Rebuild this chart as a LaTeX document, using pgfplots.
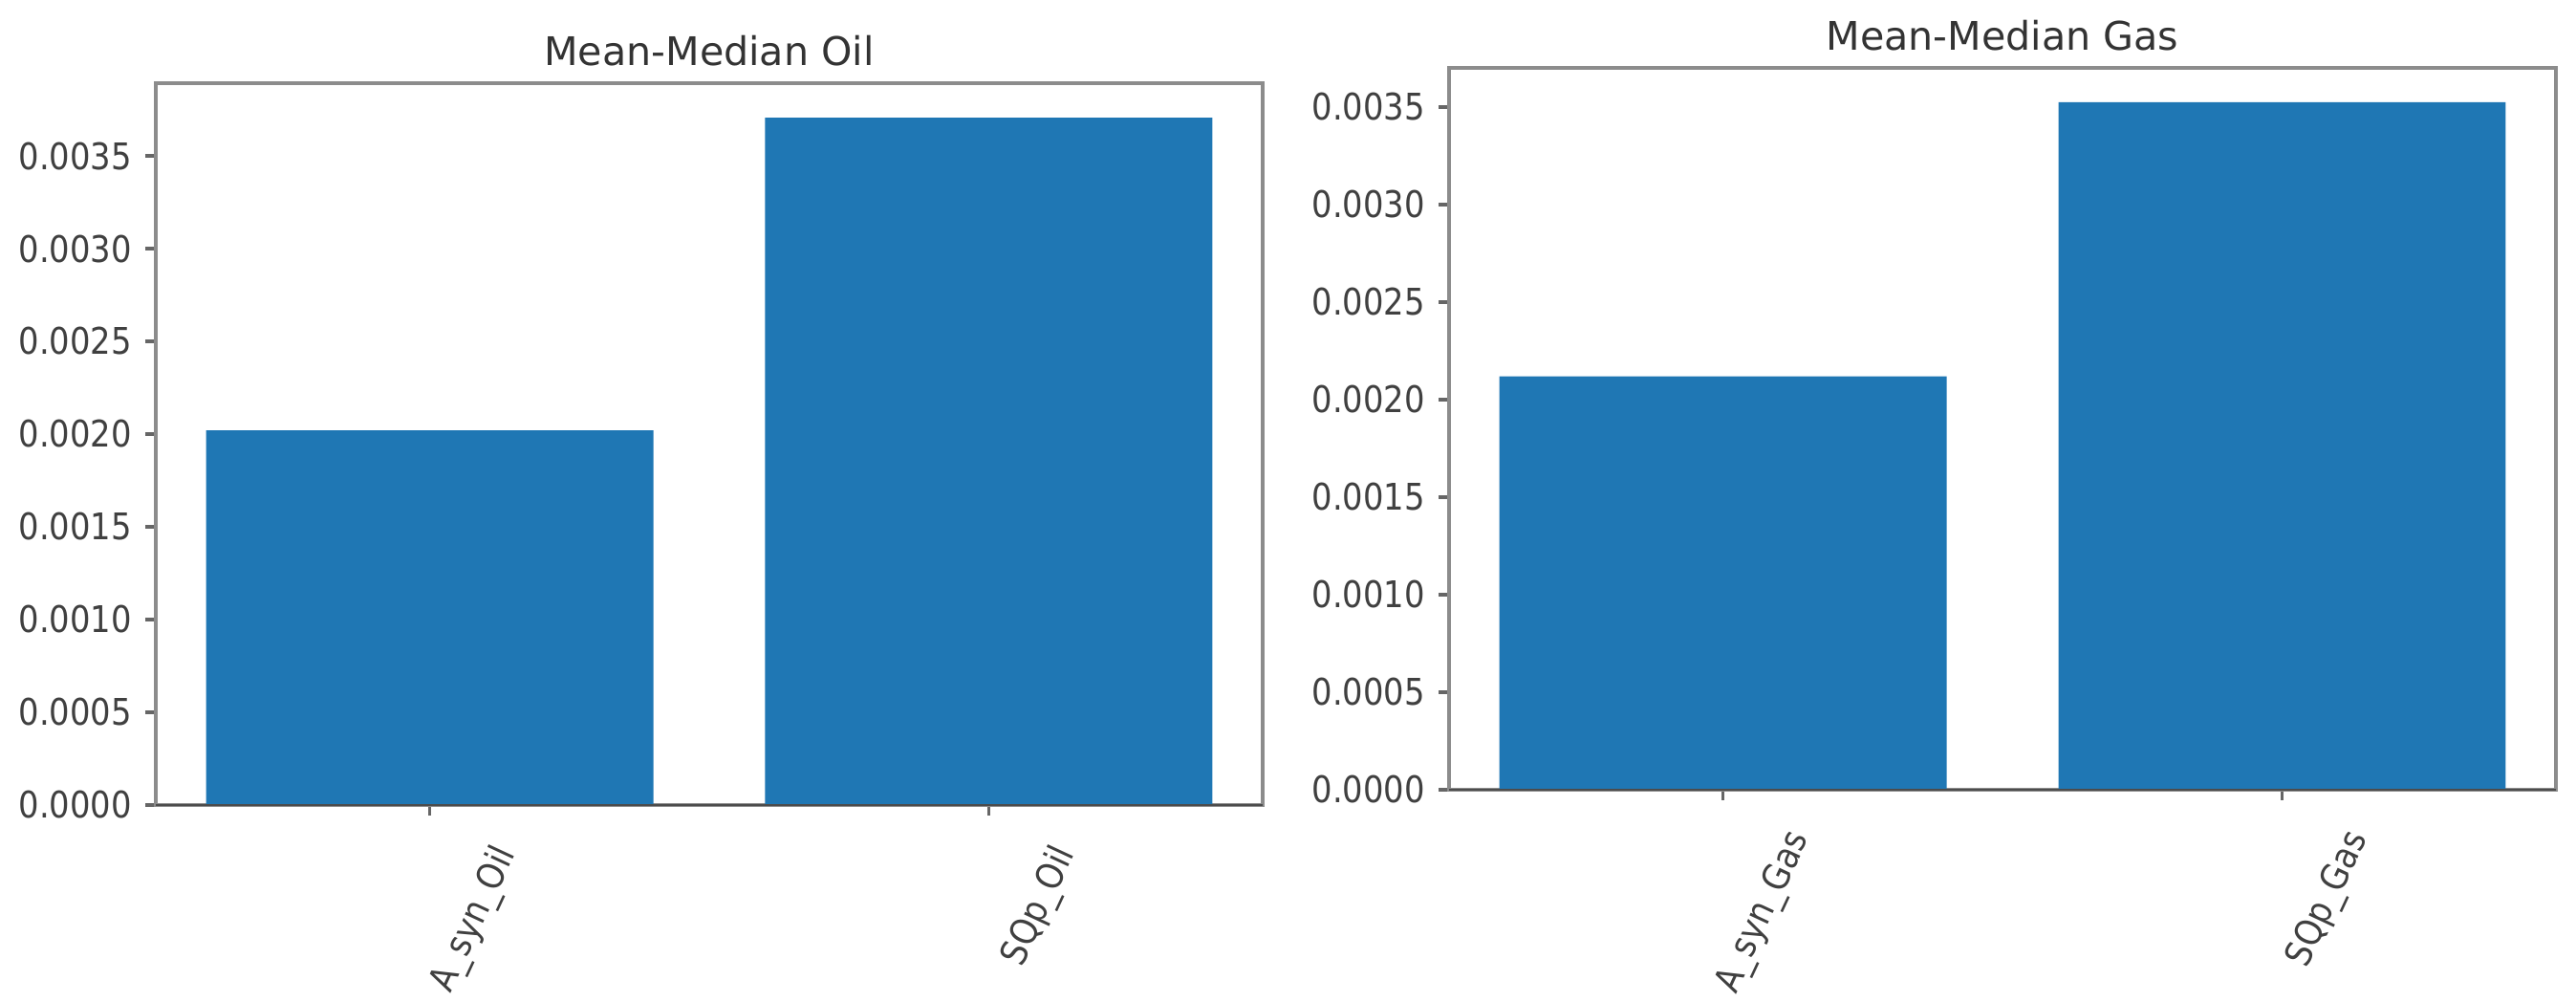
\documentclass[border=0pt]{standalone}
\usepackage{fontspec}
\setmainfont{DejaVu Sans}
\newfontfamily\tickfont{DejaVu Sans}[FakeStretch=0.88]
\usepackage{pgfplots}
\pgfplotsset{compat=1.18}
\definecolor{barblue}{HTML}{1F77B4}
\definecolor{axgray}{RGB}{140,140,140}
\pgfplotsset{mmstyle/.style={
  scale only axis, width=289.5pt, height=188.75pt,
  ybar, bar width=0.8, bar shift=0pt,
  xmin=-0.49, xmax=1.49, ymin=0,
  xtick={0,1},
  ytick={0,0.0005,0.001,0.0015,0.002,0.0025,0.003,0.0035},
  scaled y ticks=false,
  /pgf/number format/assume math mode=true,
  yticklabel style={/pgf/number format/.cd, fixed, fixed zerofill, precision=4, /tikz/.cd,
    font=\tickfont\fontsize{9.6}{11}\selectfont, text=black!75},
  xticklabel style={xshift=14.25pt, yshift=-2.2pt, rotate=65, anchor=north east,
    font=\tickfont\fontsize{9.6}{11}\selectfont, text=black!75},
  tick align=outside, xtick pos=bottom, ytick pos=left,
  major tick length=2.75pt,
  axis line style={draw=axgray, line width=1.1pt},
  tick style={draw=black!60, line width=0.8pt},
  title style={font=\fontsize{10.3}{12}\selectfont, text=black!80, yshift=-5.15pt},
}}
\begin{document}
\begin{tikzpicture}
\useasboundingbox (-40.75pt,-51.5pt) rectangle (633pt,210.5pt);
\begin{axis}[mmstyle, at={(0pt,0pt)}, anchor=south west,
  ymax=0.003892, title={Mean-Median Oil},
  xticklabels={A\_syn\_Oil, SQp\_Oil}]
\addplot[fill=barblue, draw=none] coordinates {(0,0.00202) (1,0.003706)};
\draw[black!70, line width=0.7pt] (rel axis cs:0,0) -- (rel axis cs:1,0);
\end{axis}
\begin{axis}[mmstyle, at={(338.25pt,4pt)}, anchor=south west,
  ymax=0.003701, title={Mean-Median Gas},
  xticklabels={A\_syn\_Gas, SQp\_Gas}]
\addplot[fill=barblue, draw=none] coordinates {(0,0.00212) (1,0.003525)};
\draw[black!70, line width=0.7pt] (rel axis cs:0,0) -- (rel axis cs:1,0);
\end{axis}
\end{tikzpicture}
\end{document}
